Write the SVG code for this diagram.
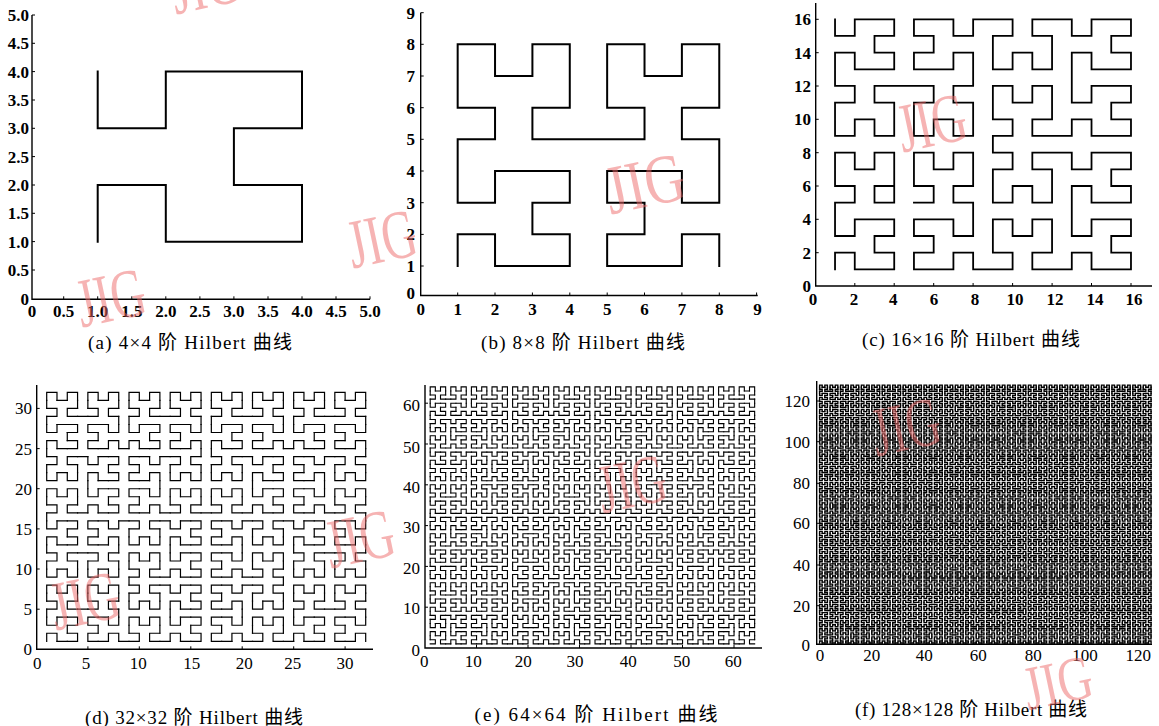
<svg xmlns="http://www.w3.org/2000/svg" width="1159" height="726" viewBox="0 0 1159 726">
<style>
.ax{fill:none;stroke:#000;stroke-width:1.4}
.tk{fill:none;stroke:#000;stroke-width:1}
.lb{font-family:"Liberation Serif","Times New Roman",serif;font-size:17px;fill:#000}
.b{font-weight:bold}
.ye{text-anchor:end}
.xm{text-anchor:middle}
.cap{font-family:"Liberation Serif","Noto Sans CJK SC",serif;font-size:19px;fill:#000;text-anchor:middle}
.cv{fill:none;stroke:#000;stroke-linejoin:miter;stroke-linecap:square}
.wm{font-family:"Liberation Serif",serif;font-size:48px;fill:#ee6a6a;opacity:.5;text-anchor:middle}
</style>
<defs>
<path id="h1" d="M0,0V1H1V0" vector-effect="non-scaling-stroke"/>
<g id="h2"><use href="#h1" transform="matrix(0,1,1,0,0,0)"/><use href="#h1" transform="translate(0,2)"/><use href="#h1" transform="translate(2,2)"/><use href="#h1" transform="matrix(0,-1,-1,0,3,1)"/><path d="M0,1V2M1,2H2M3,2V1" vector-effect="non-scaling-stroke"/></g>
<g id="h3"><use href="#h2" transform="matrix(0,1,1,0,0,0)"/><use href="#h2" transform="translate(0,4)"/><use href="#h2" transform="translate(4,4)"/><use href="#h2" transform="matrix(0,-1,-1,0,7,3)"/><path d="M0,3V4M3,4H4M7,4V3" vector-effect="non-scaling-stroke"/></g>
<g id="h4"><use href="#h3" transform="matrix(0,1,1,0,0,0)"/><use href="#h3" transform="translate(0,8)"/><use href="#h3" transform="translate(8,8)"/><use href="#h3" transform="matrix(0,-1,-1,0,15,7)"/><path d="M0,7V8M7,8H8M15,8V7" vector-effect="non-scaling-stroke"/></g>
<g id="h5"><use href="#h4" transform="matrix(0,1,1,0,0,0)"/><use href="#h4" transform="translate(0,16)"/><use href="#h4" transform="translate(16,16)"/><use href="#h4" transform="matrix(0,-1,-1,0,31,15)"/><path d="M0,15V16M15,16H16M31,16V15" vector-effect="non-scaling-stroke"/></g>
<g id="h6"><use href="#h5" transform="matrix(0,1,1,0,0,0)"/><use href="#h5" transform="translate(0,32)"/><use href="#h5" transform="translate(32,32)"/><use href="#h5" transform="matrix(0,-1,-1,0,63,31)"/><path d="M0,31V32M31,32H32M63,32V31" vector-effect="non-scaling-stroke"/></g>
<g id="h7"><use href="#h6" transform="matrix(0,1,1,0,0,0)"/><use href="#h6" transform="translate(0,64)"/><use href="#h6" transform="translate(64,64)"/><use href="#h6" transform="matrix(0,-1,-1,0,127,63)"/><path d="M0,63V64M63,64H64M127,64V63" vector-effect="non-scaling-stroke"/></g>
</defs>
<rect width="1159" height="726" fill="#fff"/>

<g id="panel-a">
<path class="ax" d="M32,15V299.3H370"/>
<path class="tk" d="M63.7,299.3v-3M97.7,299.3v-3M131.8,299.3v-3M165.8,299.3v-3M199.9,299.3v-3M233.9,299.3v-3M268,299.3v-3M302,299.3v-3M336,299.3v-3M370,299.3v-3M32,270h3M32,241.6h3M32,213.3h3M32,185h3M32,156.6h3M32,128.3h3M32,100h3M32,71.6h3M32,43.3h3M32,15h3"/>
<g class="lb b ye"><text x="29" y="305">0</text><text x="29" y="276">0.5</text><text x="29" y="247.6">1.0</text><text x="29" y="219.3">1.5</text><text x="29" y="191">2.0</text><text x="29" y="162.6">2.5</text><text x="29" y="134.3">3.0</text><text x="29" y="106">3.5</text><text x="29" y="77.6">4.0</text><text x="29" y="49.3">4.5</text><text x="29" y="21">5.0</text></g>
<g class="lb b xm"><text x="32" y="317">0</text><text x="63.7" y="317">0.5</text><text x="97.7" y="317">1.0</text><text x="131.8" y="317">1.5</text><text x="165.8" y="317">2.0</text><text x="199.9" y="317">2.5</text><text x="233.9" y="317">3.0</text><text x="268" y="317">3.5</text><text x="302" y="317">4.0</text><text x="336" y="317">4.5</text><text x="370" y="317">5.0</text></g>
<path class="cv" stroke-width="2" vector-effect="non-scaling-stroke" transform="translate(29.6,298.3) scale(68.1,-56.67)" d="M1,4V3H2V4H4V3H3V2H4V1H2V2H1V1"/>
<text class="cap" x="190" y="349" textLength="204" lengthAdjust="spacing">(a) 4×4 阶 Hilbert 曲线</text>
</g>

<g id="panel-b">
<path class="ax" d="M420.7,12.7V295.5H757.7"/>
<path class="tk" d="M457.7,295.5v-3M495,295.5v-3M532.4,295.5v-3M569.8,295.5v-3M607.2,295.5v-3M644.5,295.5v-3M681.9,295.5v-3M719.3,295.5v-3M756.6,295.5v-3M420.7,266h3M420.7,234.4h3M420.7,202.7h3M420.7,171h3M420.7,139.3h3M420.7,107.7h3M420.7,76h3M420.7,44.3h3M420.7,12.7h3"/>
<g class="lb b ye"><text x="415" y="299">0</text><text x="415" y="272">1</text><text x="415" y="240.4">2</text><text x="415" y="208.7">3</text><text x="415" y="177">4</text><text x="415" y="145.3">5</text><text x="415" y="113.7">6</text><text x="415" y="82">7</text><text x="415" y="50.3">8</text><text x="415" y="19">9</text></g>
<g class="lb b xm"><text x="420.7" y="315">0</text><text x="457.7" y="315">1</text><text x="495" y="315">2</text><text x="532.4" y="315">3</text><text x="569.8" y="315">4</text><text x="607.2" y="315">5</text><text x="644.5" y="315">6</text><text x="681.9" y="315">7</text><text x="719.3" y="315">8</text><text x="757.5" y="315">9</text></g>
<path class="cv" stroke-width="2" vector-effect="non-scaling-stroke" transform="translate(420.3,297.7) scale(37.37,-31.67)" d="M1,1V2H2V1H4V2H3V3H4V4H2V3H1V5H2V6H1V8H2V7H3V8H4V6H3V5H6V6H5V8H6V7H7V8H8V6H7V5H8V3H7V4H5V3H6V2H5V1H7V2H8V1"/>
<text class="cap" x="583" y="349" textLength="204" lengthAdjust="spacing">(b) 8×8 阶 Hilbert 曲线</text>
</g>

<g id="panel-c">
<path class="ax" d="M815.7,3V286H1152"/>
<path class="tk" d="M854.8,286v-3M894.2,286v-3M933.7,286v-3M973.1,286v-3M1012.6,286v-3M1052.1,286v-3M1091.5,286v-3M1131,286v-3M815.7,252.7h3M815.7,219.3h3M815.7,186h3M815.7,152.7h3M815.7,119.3h3M815.7,86h3M815.7,52.7h3M815.7,19.3h3"/>
<g class="lb b ye"><text x="811" y="292">0</text><text x="811" y="258.7">2</text><text x="811" y="225.3">4</text><text x="811" y="192">6</text><text x="811" y="158.7">8</text><text x="811" y="125.3">10</text><text x="811" y="92">12</text><text x="811" y="58.7">14</text><text x="811" y="25.3">16</text></g>
<g class="lb b xm"><text x="813" y="305">0</text><text x="854" y="305">2</text><text x="893.3" y="305">4</text><text x="934" y="305">6</text><text x="975" y="305">8</text><text x="1015" y="305">10</text><text x="1055" y="305">12</text><text x="1095" y="305">14</text><text x="1134" y="305">16</text></g>
<path class="cv" stroke-width="1.8" vector-effect="non-scaling-stroke" transform="translate(815.3,286) scale(19.73,-16.67)" d="M1,16V15H2V16H4V15H3V14H4V13H2V14H1V12H2V11H1V9H2V10H3V9H4V11H3V12H6V11H5V9H6V10H7V9H8V11H7V12H8V14H7V13H5V14H6V15H5V16H7V15H8V16H10V15H9V13H10V14H11V13H12V15H11V16H13V15H14V16H16V15H15V14H16V13H14V14H13V11H14V12H16V11H15V10H16V9H14V10H13V9H11V10H12V12H11V11H10V12H9V10H10V9H9V8H10V7H9V5H10V6H11V5H12V7H11V8H13V7H14V8H16V7H15V6H16V5H14V6H13V3H14V4H16V3H15V2H16V1H14V2H13V1H11V2H12V4H11V3H10V4H9V2H10V1H8V2H7V1H5V2H6V3H5V4H7V3H8V5H7V6H8V8H7V7H6V8H5V6H6V5H5M4,6H3V5H4V8H3V7H2V8H1V6H2V5H1V3H2V4H4V3H3V2H4V1H2V2H1V1"/>
<text class="cap" x="971" y="346" textLength="218" lengthAdjust="spacing">(c) 16×16 阶 Hilbert 曲线</text>
</g>

<g id="panel-d">
<path class="ax" d="M36.7,385V649.3H373"/>
<path class="tk" d="M87.9,649.3v-3M139.3,649.3v-3M190.8,649.3v-3M242.2,649.3v-3M293.7,649.3v-3M345.1,649.3v-3M36.7,609.2h3M36.7,569h3M36.7,528.9h3M36.7,488.7h3M36.7,448.6h3M36.7,408.4h3"/>
<g class="lb ye"><text x="32" y="655">0</text><text x="32" y="615.2">5</text><text x="32" y="575">10</text><text x="32" y="535">15</text><text x="32" y="494.7">20</text><text x="32" y="454.6">25</text><text x="32" y="414.4">30</text></g>
<g class="lb xm"><text x="37.3" y="669">0</text><text x="86" y="669">5</text><text x="138.3" y="669">10</text><text x="191.7" y="669">15</text><text x="244.3" y="669">20</text><text x="292.7" y="669">25</text><text x="345" y="669">30</text></g>
<use href="#h5" class="cv" style="stroke-width:1.2" transform="translate(46.7,641.3) scale(10.29,-8.03)"/>
<text class="cap" x="194" y="724" textLength="218" lengthAdjust="spacing">(d) 32×32 阶 Hilbert 曲线</text>
</g>

<g id="panel-e">
<path class="ax" d="M425,385V648H762"/>
<path class="tk" d="M476.5,648v-3M528,648v-3M579.5,648v-3M631,648v-3M682.5,648v-3M734,648v-3M425,607.2h3M425,566.4h3M425,525.6h3M425,484.8h3M425,444h3M425,403.2h3"/>
<g class="lb ye"><text x="420" y="656">0</text><text x="420" y="614.3">10</text><text x="420" y="574.3">20</text><text x="420" y="532.7">30</text><text x="420" y="492.7">40</text><text x="420" y="452.7">50</text><text x="420" y="411">60</text></g>
<g class="lb xm"><text x="424.3" y="667">0</text><text x="473.3" y="667">10</text><text x="523.3" y="667">20</text><text x="575" y="667">30</text><text x="628.3" y="667">40</text><text x="681.7" y="667">50</text><text x="733.3" y="667">60</text></g>
<use href="#h6" class="cv" style="stroke-width:1.1" transform="translate(430.2,643.9) scale(5.15,-4.08)"/>
<text class="cap" x="596" y="721" textLength="243" lengthAdjust="spacing">(e) 64×64 阶 Hilbert 曲线</text>
</g>

<g id="panel-f">
<path class="ax" d="M816.7,381V644.3H1152"/>
<path class="tk" d="M870,644.3v-3M923,644.3v-3M976,644.3v-3M1029,644.3v-3M1082,644.3v-3M1135,644.3v-3M816.7,605.7h3M816.7,565h3M816.7,523.3h3M816.7,483.3h3M816.7,441.7h3M816.7,401h3"/>
<g class="lb ye"><text x="810" y="651">0</text><text x="810" y="611.7">20</text><text x="810" y="571">40</text><text x="810" y="529.3">60</text><text x="810" y="489.3">80</text><text x="810" y="447.7">100</text><text x="810" y="407">120</text></g>
<g class="lb xm"><text x="820" y="661">0</text><text x="871.7" y="661">20</text><text x="924.3" y="661">40</text><text x="978.3" y="661">60</text><text x="1033.3" y="661">80</text><text x="1085" y="661">100</text><text x="1138.3" y="661">120</text></g>
<use href="#h7" class="cv" style="stroke-width:1.35;stroke:#000" transform="translate(819.6,643) scale(2.61,-2.03)"/>
<text class="cap" x="971" y="716" textLength="232" lengthAdjust="spacing">(f) 128×128 阶 Hilbert 曲线</text>
</g>

<g id="watermarks">
<text class="wm" transform="translate(205,-14) rotate(-12) scale(1,1.45)" y="15">JIG</text>
<text class="wm" transform="translate(111,299) rotate(-12) scale(1,1.45)" y="15">JIG</text>
<text class="wm" transform="translate(382,240) rotate(-12) scale(1,1.45)" y="15">JIG</text>
<text class="wm" transform="translate(645,185) rotate(-12) scale(1.15,1.45)" y="15">JIG</text>
<text class="wm" transform="translate(932,124) rotate(-12) scale(1,1.45)" y="15">JIG</text>
<text class="wm" transform="translate(85,602) rotate(-12) scale(1,1.45)" y="15">JIG</text>
<text class="wm" transform="translate(360,540) rotate(-12) scale(1,1.45)" y="15">JIG</text>
<text class="wm" transform="translate(632,485) rotate(-12) scale(1,1.45)" y="15">JIG</text>
<text class="wm" transform="translate(906,428) rotate(-12) scale(1,1.45)" y="15">JIG</text>
<text class="wm" transform="translate(1058,684) rotate(-12) scale(1,1.3)" y="15">JIG</text>
</g>
</svg>
